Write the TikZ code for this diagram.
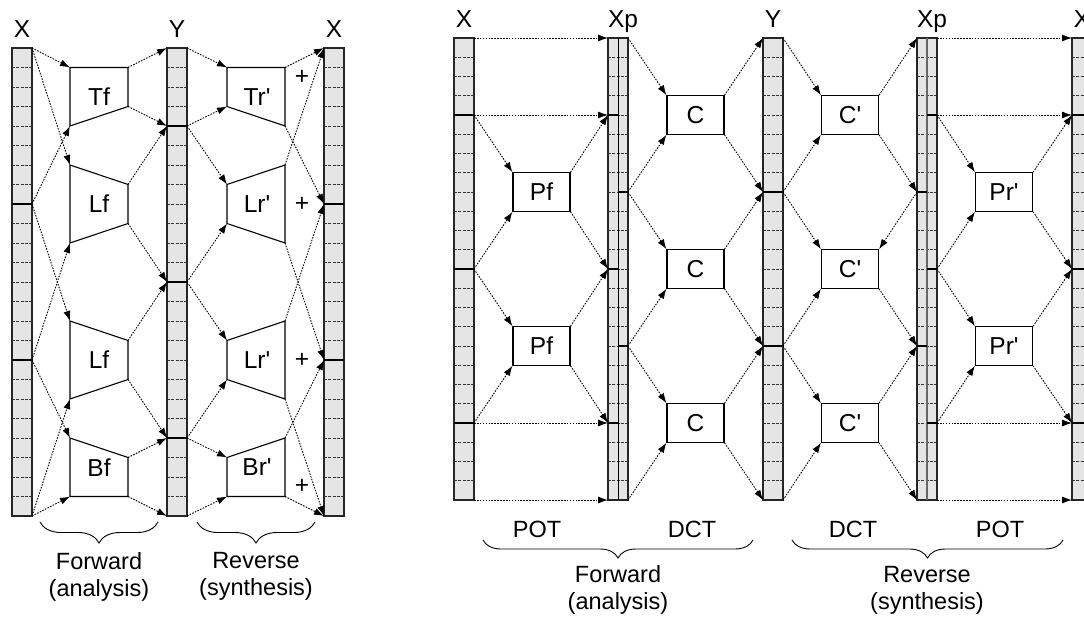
\documentclass[tikz,border=0pt]{standalone}
\usepackage{fontspec}
\setmainfont{Liberation Sans}
\usetikzlibrary{arrows.meta,decorations.pathreplacing}

\begin{document}
\begin{tikzpicture}[x=1pt, y=-1pt,
      font=\fontsize{24.5}{28}\selectfont,
      vec/.style = {draw=black!85, line width=1.1pt, fill=black!10},
      cell/.style = {draw=black!80, line width=0.75pt, dash pattern=on 3pt off 1.3pt},
      blk/.style = {draw=black, line width=1.3pt},
      trap/.style = {draw, line width=1.1pt, fill=white},
      box/.style = {draw, line width=1.1pt, minimum width=57pt, minimum height=38.5pt,
        inner sep=0pt},
      link/.style = {draw, line width=0.9pt, dash pattern=on 1.6pt off 1.3pt,
        -{Latex[length=10pt,width=7pt]}},
      brc/.style = {draw, line width=0.9pt, decorate,
        decoration={brace, mirror, amplitude=#1}},
      caption/.style = {font=\fontsize{23.5}{27}\selectfont, align=center}]
  \useasboundingbox (0,0) rectangle (1084,617);

  \begin{scope}[y=-19.5pt, yshift=-48pt]
    \foreach \xl/\nm in {12/X,167/Y,324/X} {
      \draw[vec] (\xl,0) rectangle (\xl+20,24);
      \foreach \k in {1,...,23} \draw[cell] (\xl,\k) -- (\xl+20,\k);
      \node[anchor=base, inner sep=0pt] (lab\xl) at (\xl+10,-0.56) {\nm};
    }
    \foreach \xl/\k in {12/8,12/16,167/4,167/12,167/20,324/8,324/16}
      \draw[blk] (\xl,\k) -- (\xl+20,\k);
    \foreach \k in {0,8,16,24} {
      \coordinate (lxo-\k) at (32,\k);
      \coordinate (lxi-\k) at (324,\k);
    }
    \foreach \k in {0,4,12,20,24} {
      \coordinate (lyi-\k) at (167,\k);
      \coordinate (lyo-\k) at (187,\k);
    }
    \foreach \nm/\lab/\a/\b/\c/\d in {tf/Tf/1/4/1/3, lfa/Lf/6/10/7/9,
        lfb/Lf/14/18/15/17, bf/Bf/20/23/21/23} {
      \coordinate (\nm-nw) at (70,\a);
      \coordinate (\nm-sw) at (70,\b);
      \coordinate (\nm-ne) at (128,\c);
      \coordinate (\nm-se) at (128,\d);
      \draw[trap] (\nm-nw) -- (\nm-ne) -- (\nm-se) -- (\nm-sw) -- cycle;
      \node (\nm) at (99,{(\a+\b)/2}) {\lab};
    }
    \foreach \nm/\lab/\a/\b/\c/\d/\p in {tr/Tr/1/3/1/4/1.5, lra/Lr/7/9/6/10/8,
        lrb/Lr/15/17/14/18/16, br/Br/21/23/20/23/22.5} {
      \coordinate (\nm-nw) at (227,\a);
      \coordinate (\nm-sw) at (227,\b);
      \coordinate (\nm-ne) at (285,\c);
      \coordinate (\nm-se) at (285,\d);
      \draw[trap] (\nm-nw) -- (\nm-ne) -- (\nm-se) -- (\nm-sw) -- cycle;
      \node (\nm) at (257,{(\c+\d)/2}) {\lab\textquotesingle};
      \node (\nm-add) at (302,\p) {+};
    }
    \foreach \s/\t in {lxo-0/tf-nw, lxo-0/lfa-nw, lxo-8/tf-sw, lxo-8/lfb-nw,
        lxo-16/lfa-sw, lxo-16/bf-nw, lxo-24/lfb-sw, lxo-24/bf-sw,
        tf-ne/lyi-0, tf-se/lyi-4, lfa-ne/lyi-4, lfa-se/lyi-12,
        lfb-ne/lyi-12, lfb-se/lyi-20, bf-ne/lyi-20, bf-se/lyi-24,
        lyo-0/tr-nw, lyo-4/tr-sw, lyo-4/lra-nw, lyo-12/lra-sw,
        lyo-12/lrb-nw, lyo-20/lrb-sw, lyo-20/br-nw, lyo-24/br-sw,
        tr-ne/lxi-0, tr-se/lxi-8, lra-ne/lxi-0, lra-se/lxi-16,
        lrb-ne/lxi-8, lrb-se/lxi-24, br-ne/lxi-16, br-se/lxi-24}
      \draw[link] (\s) -- (\t);
  \end{scope}

  \begin{scope}[y=-19.25pt, yshift=-38pt]
    \foreach \xl in {454,608,763,917,1072} {
      \draw[vec] (\xl,0) rectangle (\xl+20,24);
      \foreach \k in {1,...,23} \draw[cell] (\xl,\k) -- (\xl+20,\k);
    }
    \draw[line width=0.8pt] (618,0) -- (618,24);
    \draw[line width=1.2pt, black!60] (927,0) -- (927,24);
    \foreach \k in {4,12,20} {
      \draw[blk] (454,\k) -- (474,\k);
      \draw[blk] (608,\k) -- (618,\k);
      \draw[blk] (927,\k) -- (937,\k);
      \draw[blk] (1072,\k) -- (1092,\k);
    }
    \foreach \k in {8,16} {
      \draw[blk] (618,\k) -- (628,\k);
      \draw[blk] (763,\k) -- (783,\k);
      \draw[blk] (917,\k) -- (927,\k);
    }
    \foreach \xc/\nm in {464/X,623/Xp,773/Y,932/Xp,1082/X}
      \node[anchor=base, inner sep=0pt] (lab\xc) at (\xc,-0.54) {\nm};
    \foreach \k in {0,4,8,12,16,20,24} {
      \coordinate (xo-\k) at (474,\k);
      \coordinate (pi-\k) at (608,\k);
      \coordinate (po-\k) at (628,\k);
      \coordinate (yi-\k) at (763,\k);
      \coordinate (yo-\k) at (783,\k);
      \coordinate (qi-\k) at (917,\k);
      \coordinate (qo-\k) at (937,\k);
      \coordinate (xi-\k) at (1072,\k);
    }
    \node[box] (pfa) at (541.5,8) {Pf};
    \node[box] (pfb) at (541.5,16) {Pf};
    \node[box] (ca) at (695.5,4) {C};
    \node[box] (cb) at (695.5,12) {C};
    \node[box] (cc) at (695.5,20) {C};
    \node[box] (cia) at (850,4) {C\textquotesingle};
    \node[box] (cib) at (850,12) {C\textquotesingle};
    \node[box] (cic) at (850,20) {C\textquotesingle};
    \node[box] (pra) at (1004,8) {Pr\textquotesingle};
    \node[box] (prb) at (1004,16) {Pr\textquotesingle};
    \foreach \s/\t in {xo-0/pi-0, xo-4/pi-4, xo-20/pi-20, xo-24/pi-24,
        xo-4/pfa.north west, pfa.north east/pi-4, xo-12/pfa.south west, pfa.south east/pi-12,
        xo-12/pfb.north west, pfb.north east/pi-12, xo-20/pfb.south west, pfb.south east/pi-20,
        po-0/ca.north west, ca.north east/yi-0, po-8/ca.south west, ca.south east/yi-8,
        po-8/cb.north west, cb.north east/yi-8, po-16/cb.south west, cb.south east/yi-16,
        po-16/cc.north west, cc.north east/yi-16, po-24/cc.south west, cc.south east/yi-24,
        yo-0/cia.north west, cia.north east/qi-0, yo-8/cia.south west, cia.south east/qi-8,
        yo-8/cib.north west, qi-8/cib.north east, yo-16/cib.south west, cib.south east/qi-16,
        yo-16/cic.north west, cic.north east/qi-16, yo-24/cic.south west, cic.south east/qi-24,
        qo-0/xi-0, qo-4/xi-4, qo-20/xi-20, qo-24/xi-24,
        qo-4/pra.north west, pra.north east/xi-4, qo-12/pra.south west, pra.south east/xi-12,
        qo-12/prb.north west, prb.north east/xi-12, qo-20/prb.south west, prb.south east/xi-20}
      \draw[link] (\s) -- (\t);
  \end{scope}

  \draw[brc=21pt] (40,522) -- (158,522);
  \draw[brc=21pt] (197,522) -- (315,522);
  \node[caption] (fwda) at (99,576.5) {Forward\\(analysis)};
  \node[caption] (reva) at (256,576.5) {Reverse\\(synthesis)};

  \draw[brc=18pt] (483,540) -- (753,540);
  \draw[brc=18pt] (792,540) -- (1063,540);
  \node[caption] (pota) at (537,529) {POT};
  \node[caption] (dcta) at (692,529) {DCT};
  \node[caption] (dctb) at (853,529) {DCT};
  \node[caption] (potb) at (1000,529) {POT};
  \node[caption] (fwdb) at (618,590) {Forward\\(analysis)};
  \node[caption] (revb) at (927,590) {Reverse\\(synthesis)};
\end{tikzpicture}
\end{document}
